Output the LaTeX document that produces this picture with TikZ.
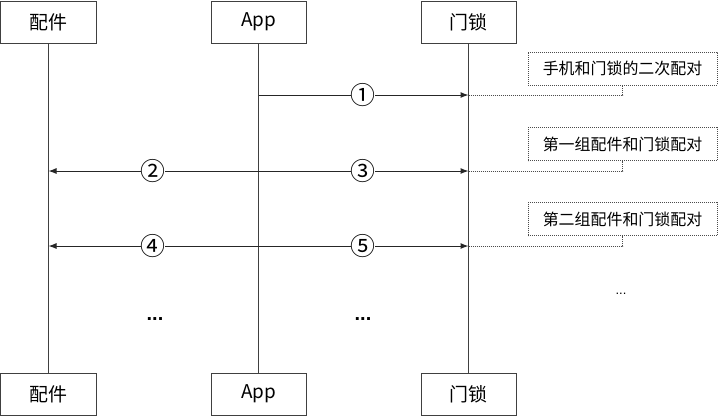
\documentclass[tikz,border=0pt]{standalone}
\usepackage{fontspec}
\setmainfont{Noto Sans CJK SC}
\newfontfamily\symfont{Liberation Sans}
\usetikzlibrary{arrows.meta}
\begin{document}
\begin{tikzpicture}[x=1bp,y=-1bp,
  actor/.style={draw=black!75,line width=1bp,minimum width=95bp,minimum height=42bp,inner sep=0pt,font=\fontsize{19}{22}\selectfont},
  note/.style={draw=black!70,line width=0.8bp,dash pattern=on 1bp off 1bp,minimum width=189bp,minimum height=33bp,inner sep=0pt,font=\fontsize{16}{18}\selectfont},
  life/.style={draw=black!75,line width=0.9bp},
  msg/.style={draw=black!85,line width=1bp,-{Latex[length=8bp,width=6bp]}},
  link/.style={draw=black!70,line width=0.8bp,dash pattern=on 1bp off 1bp},
  num/.style={fill=white,inner sep=0pt,font=\fontsize{25}{26}\selectfont},
  dots/.style={font=\symfont\fontsize{20}{22}\selectfont\bfseries},
  sdots/.style={font=\symfont\fontsize{13}{14}\selectfont}]
\useasboundingbox (0,0) rectangle (718,418);
% actors
\node[actor] (p1) at (48.5,22) {配件};
\node[actor] (a1) at (258.5,22) {App};
\node[actor] (m1) at (468.5,22) {门锁};
\node[actor] (p2) at (48.5,394) {配件};
\node[actor] (a2) at (258.5,394) {App};
\node[actor] (m2) at (468.5,394) {门锁};
% lifelines
\draw[life] (p1) -- (p2);
\draw[life] (a1) -- (a2);
\draw[life] (m1) -- (m2);
% message anchor points
\coordinate (a95) at (258.5,95);
\coordinate (m95) at (468.5,95);
\coordinate (p171) at (48.5,171);
\coordinate (a171) at (258.5,171);
\coordinate (m171) at (468.5,171);
\coordinate (p246) at (48.5,246);
\coordinate (a246) at (258.5,246);
\coordinate (m246) at (468.5,246);
% notes
\node[note] (n1) at (622.5,68.5) {手机和门锁的二次配对};
\node[note] (n2) at (622.5,144) {第一组配件和门锁配对};
\node[note] (n3) at (622.5,219) {第二组配件和门锁配对};
\draw[link] (m95) -| (n1.south);
\draw[link] (m171) -| (n2.south);
\draw[link] (m246) -| (n3.south);
% messages
\draw[msg] (a95) -- (m95);
\draw[msg] (a171) -- (p171);
\draw[msg] (a171) -- (m171);
\draw[msg] (a246) -- (p246);
\draw[msg] (a246) -- (m246);
% numbers
\node[num] (c1) at (363,95) {①};
\node[num] (c2) at (153,171) {②};
\node[num] (c3) at (363,171) {③};
\node[num] (c4) at (153,246) {④};
\node[num] (c5) at (363,246) {⑤};
% ellipses
\node[dots] (d1) at (155,319) {...};
\node[dots] (d2) at (363,319) {...};
\node[sdots] (d3) at (621,294) {...};
\end{tikzpicture}
\end{document}
